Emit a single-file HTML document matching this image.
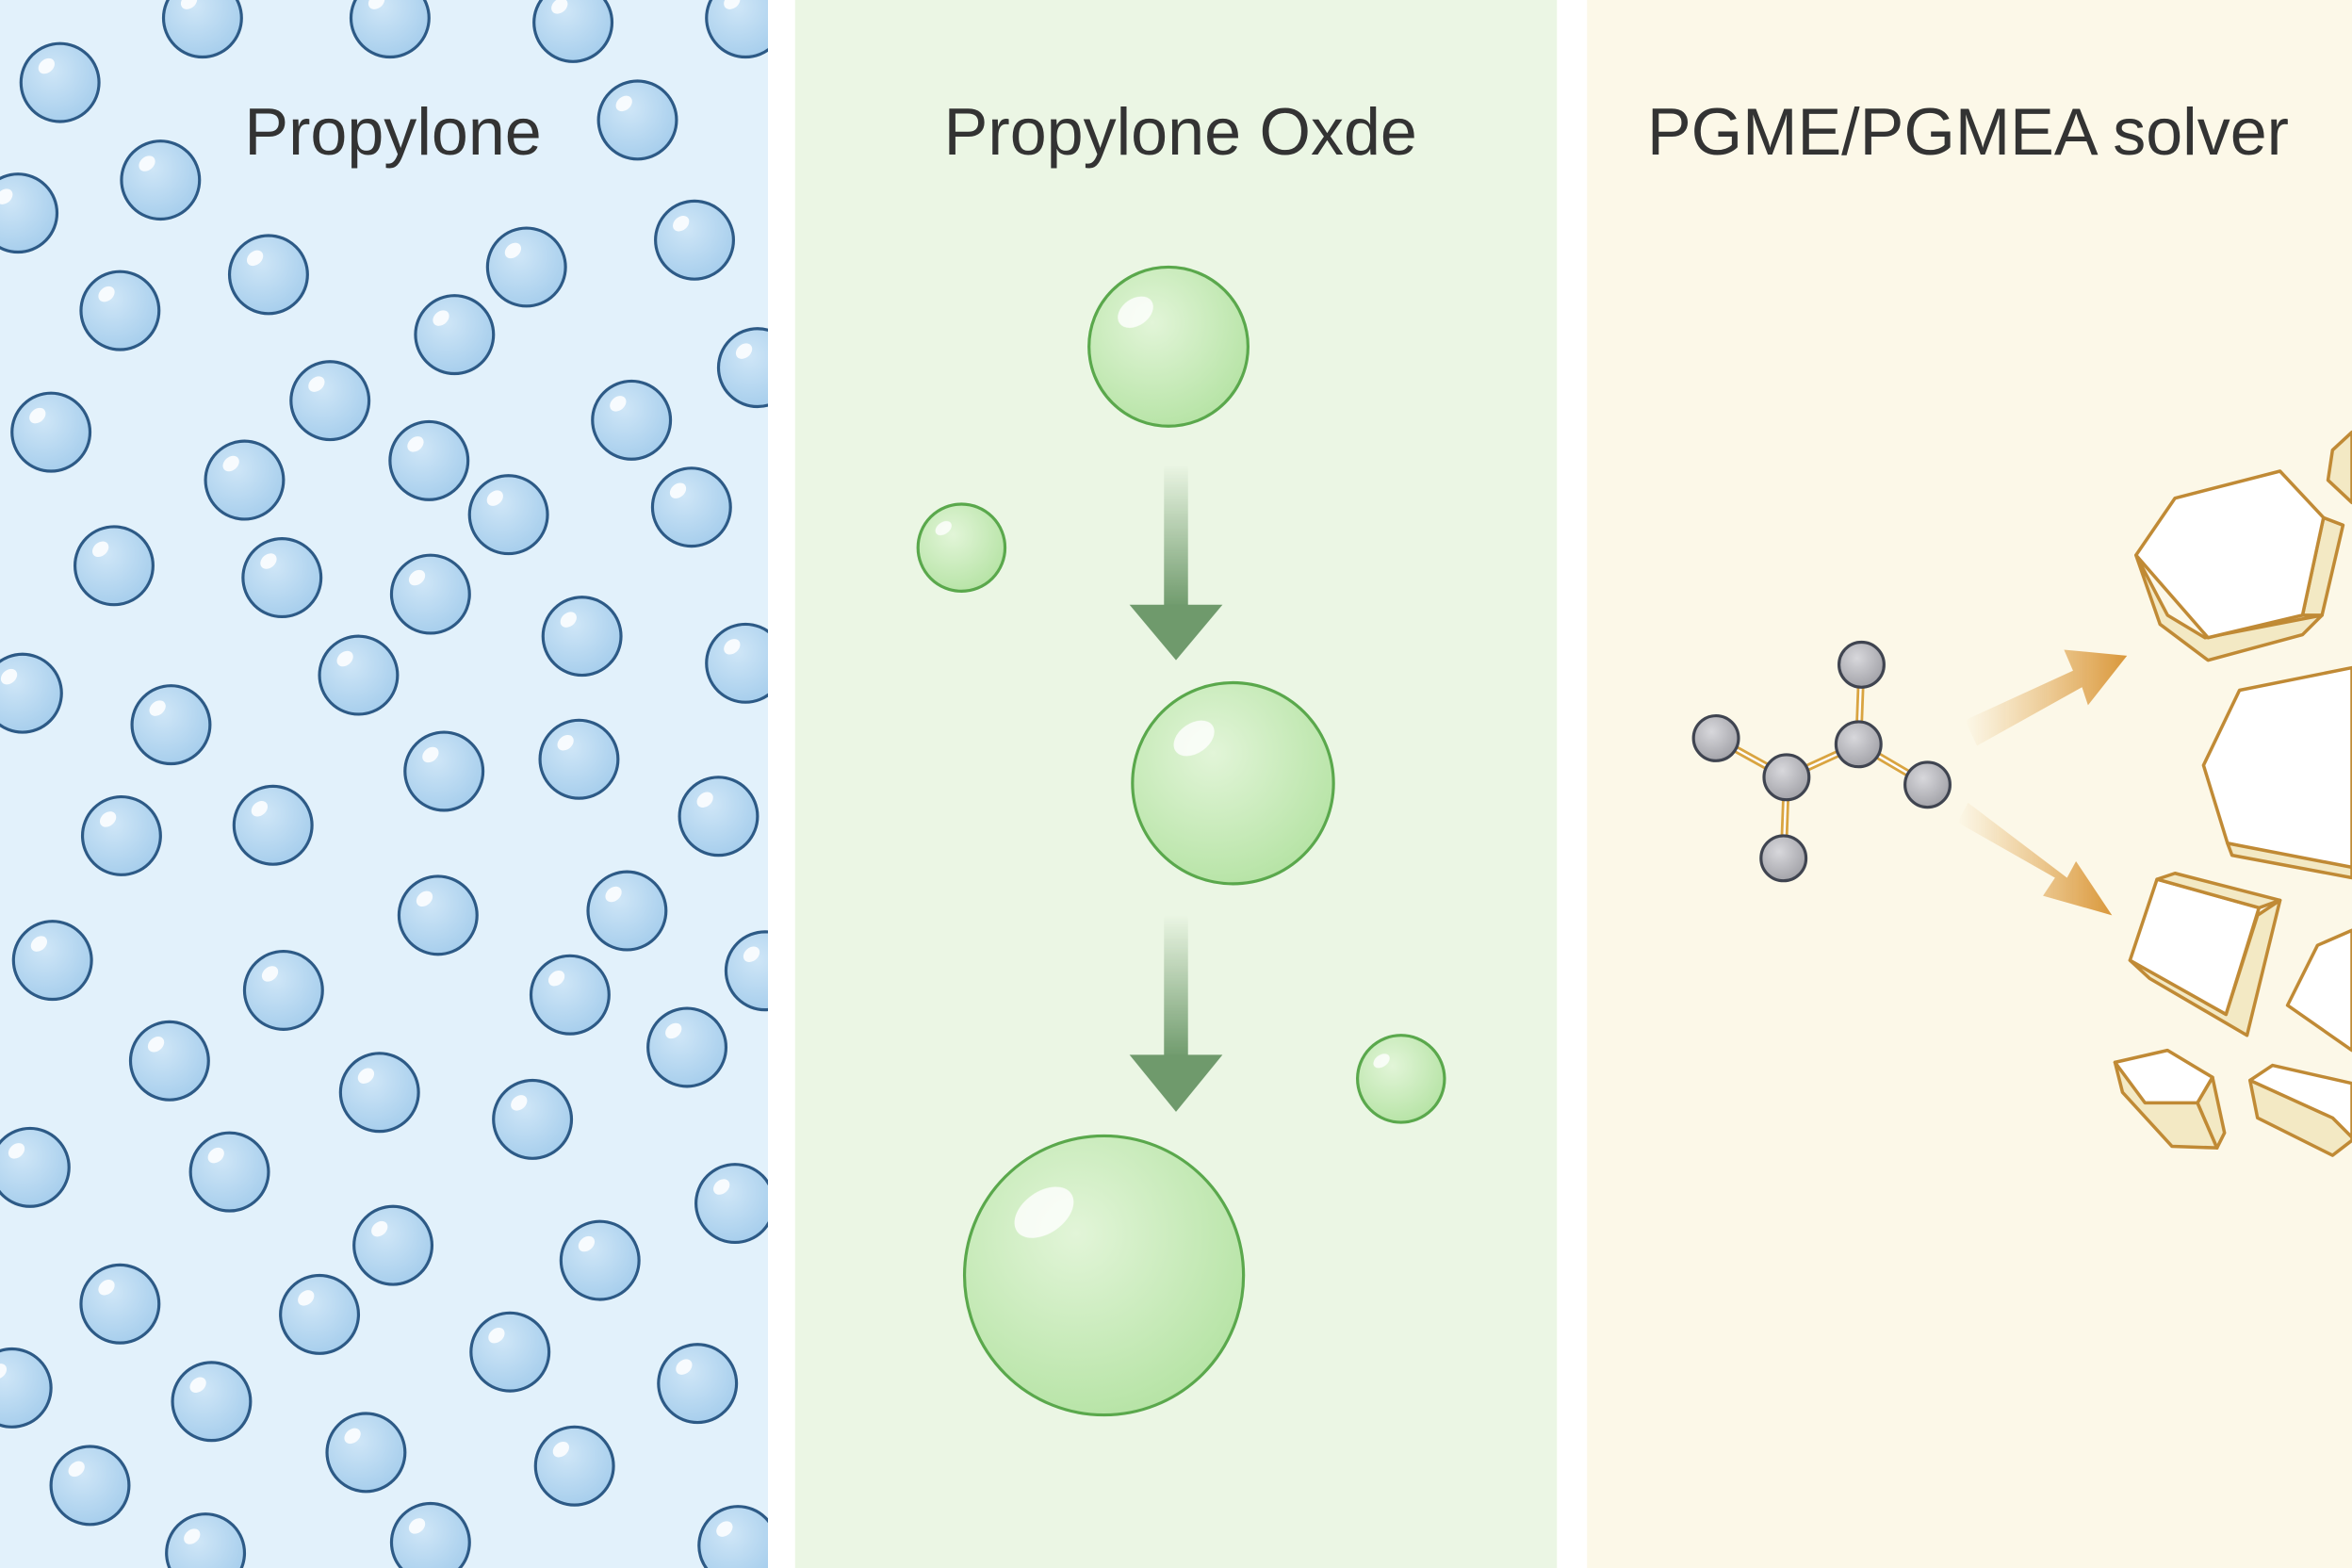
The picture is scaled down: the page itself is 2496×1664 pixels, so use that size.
<!DOCTYPE html>
<html><head><meta charset="utf-8"><style>html,body{margin:0;padding:0;background:#fff}svg{display:block}</style></head>
<body>
<svg width="2496" height="1664" viewBox="0 0 1568 1045" preserveAspectRatio="none" xmlns="http://www.w3.org/2000/svg">
<defs>
<radialGradient id="gb" cx="0.4" cy="0.35" r="0.7"><stop offset="0" stop-color="#cfe6f7"/><stop offset="1" stop-color="#a5cdec"/></radialGradient>
<radialGradient id="gg" cx="0.4" cy="0.35" r="0.7"><stop offset="0" stop-color="#e2f5d8"/><stop offset="1" stop-color="#b5e3a4"/></radialGradient>
<radialGradient id="ga" cx="0.4" cy="0.35" r="0.7"><stop offset="0" stop-color="#d8d8dc"/><stop offset="1" stop-color="#a0a0a6"/></radialGradient>
<linearGradient id="sh" x1="0" y1="0" x2="0" y2="1"><stop offset="0" stop-color="#6f9a6c" stop-opacity="0"/><stop offset="1" stop-color="#6f9a6c"/></linearGradient>
<linearGradient id="oa" x1="0" y1="0" x2="1" y2="0"><stop offset="0" stop-color="#e2a650" stop-opacity="0"/><stop offset="1" stop-color="#d9973a"/></linearGradient>
<symbol id="b" overflow="visible"><circle r="26" fill="url(#gb)" stroke="#2d5a86" stroke-width="2"/><ellipse cx="-9" cy="-11" rx="6" ry="4.5" fill="#fff" opacity="0.85" transform="rotate(-40 -9 -11)"/></symbol>
<clipPath id="cl"><rect x="0" y="0" width="512" height="1045"/></clipPath>
</defs>
<rect x="0" y="0" width="512" height="1045" fill="#e2f1fb"/>
<rect x="530" y="0" width="508" height="1045" fill="#ebf6e4"/>
<rect x="1058" y="0" width="510" height="1045" fill="#fcf8e8"/>
<g clip-path="url(#cl)">
<use href="#b" x="135" y="12"/><use href="#b" x="260" y="12"/><use href="#b" x="382" y="15"/><use href="#b" x="497" y="12"/>
<use href="#b" x="40" y="55"/><use href="#b" x="425" y="80"/><use href="#b" x="107" y="120"/><use href="#b" x="12" y="142"/>
<use href="#b" x="463" y="160"/><use href="#b" x="179" y="183"/><use href="#b" x="351" y="178"/><use href="#b" x="80" y="207"/>
<use href="#b" x="303" y="223"/><use href="#b" x="505" y="245"/><use href="#b" x="220" y="267"/><use href="#b" x="34" y="288"/>
<use href="#b" x="421" y="280"/><use href="#b" x="286" y="307"/><use href="#b" x="163" y="320"/><use href="#b" x="339" y="343"/>
<use href="#b" x="461" y="338"/><use href="#b" x="76" y="377"/><use href="#b" x="188" y="385"/><use href="#b" x="287" y="396"/>
<use href="#b" x="388" y="424"/><use href="#b" x="15" y="462"/><use href="#b" x="239" y="450"/><use href="#b" x="497" y="442"/>
<use href="#b" x="114" y="483"/><use href="#b" x="296" y="514"/><use href="#b" x="386" y="506"/><use href="#b" x="81" y="557"/>
<use href="#b" x="182" y="550"/><use href="#b" x="479" y="544"/><use href="#b" x="292" y="610"/><use href="#b" x="418" y="607"/>
<use href="#b" x="35" y="640"/><use href="#b" x="189" y="660"/><use href="#b" x="380" y="663"/><use href="#b" x="510" y="647"/>
<use href="#b" x="113" y="707"/><use href="#b" x="458" y="698"/><use href="#b" x="253" y="728"/><use href="#b" x="355" y="746"/>
<use href="#b" x="20" y="778"/><use href="#b" x="153" y="781"/><use href="#b" x="490" y="802"/><use href="#b" x="262" y="830"/>
<use href="#b" x="400" y="840"/><use href="#b" x="80" y="869"/><use href="#b" x="213" y="876"/><use href="#b" x="340" y="901"/>
<use href="#b" x="8" y="925"/><use href="#b" x="141" y="934"/><use href="#b" x="465" y="922"/><use href="#b" x="60" y="990"/>
<use href="#b" x="244" y="968"/><use href="#b" x="383" y="977"/><use href="#b" x="137" y="1035"/><use href="#b" x="287" y="1028"/><use href="#b" x="492" y="1030"/>
</g>
<g font-family="Liberation Sans, sans-serif" font-size="44" fill="#333" text-anchor="middle">
<text x="262" y="103">Propylone</text>
<text x="787" y="103">Propylone Oxde</text>
<text x="1312" y="103">PGME/PGMEA solver</text>
</g>
<g stroke="#5aa84c" stroke-width="2" fill="url(#gg)">
<circle cx="779" cy="231" r="53"/><circle cx="641" cy="365" r="29"/><circle cx="822" cy="522" r="67"/><circle cx="934" cy="719" r="29"/><circle cx="736" cy="850" r="93"/>
</g>
<g fill="#fff" opacity="0.8">
<ellipse cx="757" cy="208" rx="13" ry="9" transform="rotate(-35 757 208)"/><ellipse cx="629" cy="352" rx="6" ry="4" transform="rotate(-35 629 352)"/>
<ellipse cx="796" cy="492" rx="15" ry="10" transform="rotate(-35 796 492)"/><ellipse cx="921" cy="707" rx="6" ry="4" transform="rotate(-35 921 707)"/>
<ellipse cx="696" cy="808" rx="22" ry="14" transform="rotate(-35 696 808)"/>
</g>
<rect x="776" y="310" width="16" height="95" fill="url(#sh)"/>
<polygon points="753,403 815,403 784,440" fill="#6f9a6c"/>
<rect x="776" y="610" width="16" height="95" fill="url(#sh)"/>
<polygon points="753,703 815,703 784,741" fill="#6f9a6c"/>
<g stroke="#d9a440" stroke-width="5">
<line x1="1144" y1="492" x2="1191" y2="518"/><line x1="1191" y1="518" x2="1239" y2="496"/><line x1="1241" y1="443" x2="1239" y2="496"/>
<line x1="1239" y1="496" x2="1285" y2="523"/><line x1="1191" y1="518" x2="1189" y2="572"/>
</g>
<g stroke="#fff" stroke-width="1.5">
<line x1="1144" y1="492" x2="1191" y2="518"/><line x1="1191" y1="518" x2="1239" y2="496"/><line x1="1241" y1="443" x2="1239" y2="496"/>
<line x1="1239" y1="496" x2="1285" y2="523"/><line x1="1191" y1="518" x2="1189" y2="572"/>
</g>
<g fill="url(#ga)" stroke="#3f4450" stroke-width="2">
<circle cx="1241" cy="443" r="15"/><circle cx="1144" cy="492" r="15"/><circle cx="1191" cy="518" r="15"/><circle cx="1239" cy="496" r="15"/><circle cx="1285" cy="523" r="15"/><circle cx="1189" cy="572" r="15"/>
</g>
<polygon points="1310,480 1382,447 1376,433 1418,437 1392,470 1388,458 1318,497" fill="url(#oa)"/>
<polygon points="1305,548 1370,585 1362,597 1408,610 1384,574 1378,585 1312,535" fill="url(#oa)"/>
<g stroke="#c08a35" stroke-width="2.2" stroke-linejoin="round">
<polygon points="1424,370 1440,416 1472,440 1535,423 1548,410 1470,425 1445,410" fill="#f3e9c4"/>
<polygon points="1535,410 1548,410 1562,350 1549,345" fill="#f3e9c4"/>
<polygon points="1424,370 1450,332 1520,314 1549,345 1535,410 1472,425" fill="#fff"/>
<polygon points="1555,300 1568,288 1568,335 1552,320" fill="#f3e9c4"/>
<polygon points="1469,510 1493,460 1568,445 1568,580 1485,562" fill="#fff"/>
<polygon points="1485,562 1488,570 1568,585 1568,578" fill="#f3e9c4"/>
<polygon points="1420,640 1433,652 1498,690 1520,600 1505,610 1484,676" fill="#f3e9c4"/>
<polygon points="1438,586 1506,605 1484,676 1420,640" fill="#fff"/>
<polygon points="1438,586 1450,582 1520,600 1506,605" fill="#f3e9c4"/>
<polygon points="1525,670 1545,630 1568,620 1568,700" fill="#fff"/>
<polygon points="1410,708 1415,728 1448,764 1478,765 1465,735" fill="#f3e9c4"/>
<polygon points="1410,708 1445,700 1475,718 1465,735 1430,735" fill="#fff"/>
<polygon points="1465,735 1475,718 1483,755 1478,765" fill="#f3e9c4"/>
<polygon points="1500,720 1505,745 1555,770 1568,760 1568,730 1520,712" fill="#f3e9c4"/>
<polygon points="1500,720 1515,710 1568,722 1568,758 1555,745" fill="#fff"/>
</g>
<rect x="512" y="0" width="18" height="1045" fill="#fff"/>
<rect x="1038" y="0" width="20" height="1045" fill="#fff"/>
</svg>
</body></html>
